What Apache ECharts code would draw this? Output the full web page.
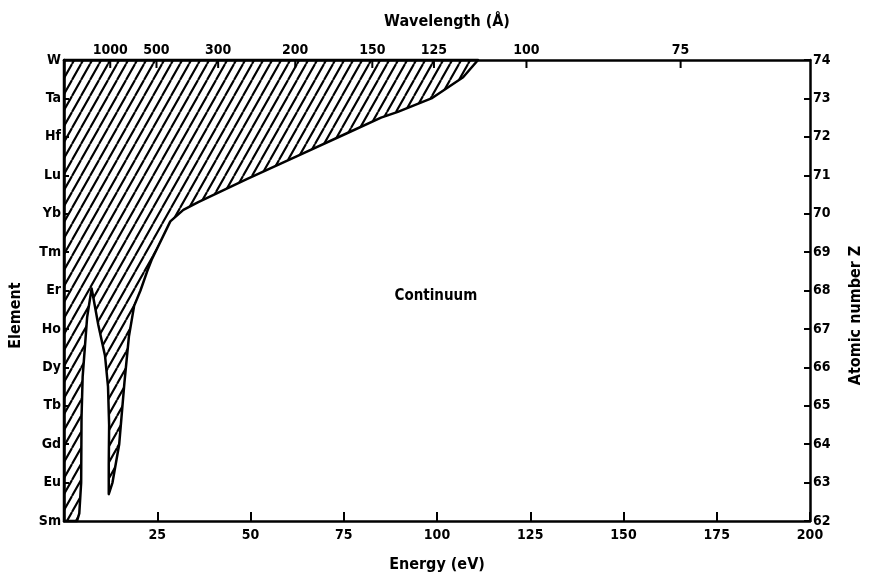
<!DOCTYPE html>
<html><head><meta charset="utf-8">
<script src="https://cdn.jsdelivr.net/npm/echarts@6/dist/echarts.min.js"></script>
<style>html,body{margin:0;padding:0;background:#fff}#c{width:872px;height:582px}</style>
</head><body><div id="c"></div>
<script>
// ---- data ----
const elementNames = ['Sm','Eu','Gd','Tb','Dy','Ho','Er','Tm','Yb','Lu','Hf','Ta','W']; // Z = 62..74
const zMin = 62, zMax = 74;
const energyTicks = [0, 25, 50, 75, 100, 125, 150, 175, 200];
const wavelengthTicks = [1000, 500, 300, 200, 150, 125, 100, 75]; // Å
const hcEvAngstrom = 12398.4; // E(eV) = hc / lambda

// outer boundary of the hatched (discrete) region, from top edge down to the wedge tip
const outerEnergy = [111, 107, 98.5, 89.5, 85, 76, 62.5, 49, 36, 32, 28.5, 25, 23.5, 22.3, 20.5, 18.8, 17.4, 16.2, 14.8, 13.0, 12.0];
const outerZ      = [74, 73.55, 73.0, 72.65, 72.5, 72.1, 71.5, 70.9, 70.3, 70.1, 69.8, 69.1, 68.8, 68.5, 68.0, 67.6, 66.8, 65.6, 64.0, 63.0, 62.7];
// inner edge of the wedge, from the tip up to the peak
const innerEnergy = [12.0, 12.1, 11.8, 11.0, 9.2, 7.7, 7.4];
const innerZ      = [63.5, 64.5, 65.5, 66.3, 67.1, 67.9, 68.05];
// right edge of the narrow strip, from the peak down to the bottom
const stripEnergy = [6.2, 5.0, 4.7, 4.6, 4.1, 3.5];
const stripZ      = [67.3, 65.75, 64.7, 63.0, 62.2, 62.0];

const continuumText = 'Continuum';
const continuumPos = [99.7, 67.85];

// ---- build ----
const polygon = [[0, zMax]];
outerEnergy.forEach((e, i) => polygon.push([e, outerZ[i]]));
innerEnergy.forEach((e, i) => polygon.push([e, innerZ[i]]));
stripEnergy.forEach((e, i) => polygon.push([e, stripZ[i]]));
polygon.push([0, zMin]);

function makeHatch() {
  const w = 9, h = 16;
  const c = document.createElement('canvas');
  c.width = w; c.height = h;
  const g = c.getContext('2d');
  g.strokeStyle = '#000'; g.lineWidth = 2.1;
  g.beginPath();
  for (let k = -1; k <= 1; k++) { g.moveTo(k * w, h); g.lineTo((k + 1) * w, 0); }
  g.stroke();
  return c;
}
const hatch = makeHatch();

const FONT = "'DejaVu Sans Condensed', 'Liberation Sans Narrow', sans-serif";
const txt = { color: '#000', fontFamily: FONT, fontWeight: 'bold', fontSize: 14 };
const nameTxt = { color: '#000', fontFamily: FONT, fontWeight: 'bold', fontSize: 16 };
const axisLine = { show: true, onZero: false, lineStyle: { color: '#000', width: 2.5 } };

const chart = echarts.init(document.getElementById('c'), null, { renderer: 'canvas' });
chart.setOption({
  backgroundColor: '#fff',
  animation: false,
  grid: { left: 64, right: 62, top: 60, bottom: 61 },
  xAxis: [
    { type: 'value', position: 'bottom', min: energyTicks[0], max: energyTicks[energyTicks.length - 1], interval: 25,
      axisLine, axisTick: { inside: true, length: 9, lineStyle: { color: '#000', width: 2 } },
      axisLabel: Object.assign({ margin: 7, formatter: v => v === 0 ? '' : String(v) }, txt),
      splitLine: { show: false },
      name: 'Energy (eV)', nameLocation: 'middle', nameGap: 36, nameTextStyle: nameTxt },
    { type: 'value', position: 'top', min: 0, max: 200,
      axisLine, axisTick: { show: false }, axisLabel: { show: false }, splitLine: { show: false },
      name: 'Wavelength (Å)', nameLocation: 'middle', nameGap: 30,
      nameTextStyle: Object.assign({ padding: [0, 0, 0, 20] }, nameTxt) }
  ],
  yAxis: [
    { type: 'value', position: 'left', min: zMin, max: zMax, interval: 1,
      axisLine, axisTick: { inside: true, length: 5, lineStyle: { color: '#000', width: 2 } },
      axisLabel: Object.assign({ margin: 3, formatter: v => elementNames[v - zMin] }, txt),
      splitLine: { show: false },
      name: 'Element', nameLocation: 'middle', nameGap: 40, nameRotate: 90,
      nameTextStyle: Object.assign({ padding: [0, 50, 0, 0] }, nameTxt) },
    { type: 'value', position: 'right', min: zMin, max: zMax, interval: 1,
      axisLine, axisTick: { inside: true, length: 6, lineStyle: { color: '#000', width: 2 } },
      axisLabel: Object.assign({ margin: 3 }, txt),
      splitLine: { show: false },
      name: 'Atomic number Z', nameLocation: 'middle', nameGap: 38, nameRotate: 90,
      nameTextStyle: Object.assign({ padding: [0, 50, 0, 0] }, nameTxt) }
  ],
  series: [
    { type: 'custom', xAxisIndex: 0, yAxisIndex: 0, data: [[0, zMin]], silent: true,
      renderItem: (params, api) => ({
        type: 'polygon',
        shape: { points: polygon.map(p => api.coord(p)) },
        style: { fill: { image: hatch, repeat: 'repeat' }, stroke: '#000', lineWidth: 2.5, lineJoin: 'round' }
      }) },
    { type: 'custom', xAxisIndex: 0, yAxisIndex: 0, silent: true,
      data: wavelengthTicks.map(l => [hcEvAngstrom / l, zMax, l]),
      renderItem: (params, api) => {
        const p = api.coord([api.value(0), api.value(1)]);
        return { type: 'group', children: [
          { type: 'line', shape: { x1: p[0], y1: p[1], x2: p[0], y2: p[1] + 8 }, style: { stroke: '#000', lineWidth: 2 } },
          { type: 'text', style: { x: p[0], y: p[1] - 3, text: String(api.value(2)), align: 'center', verticalAlign: 'bottom',
              fill: '#000', fontFamily: FONT, fontWeight: 'bold', fontSize: 14 } }
        ] };
      } },
    { type: 'custom', xAxisIndex: 0, yAxisIndex: 0, silent: true,
      data: [continuumPos],
      renderItem: (params, api) => {
        const p = api.coord([api.value(0), api.value(1)]);
        return { type: 'text', style: { x: p[0], y: p[1], text: continuumText, align: 'center', verticalAlign: 'middle',
          fill: '#000', fontFamily: FONT, fontWeight: 'bold', fontSize: 15 } };
      } }
  ]
});
</script></body></html>
